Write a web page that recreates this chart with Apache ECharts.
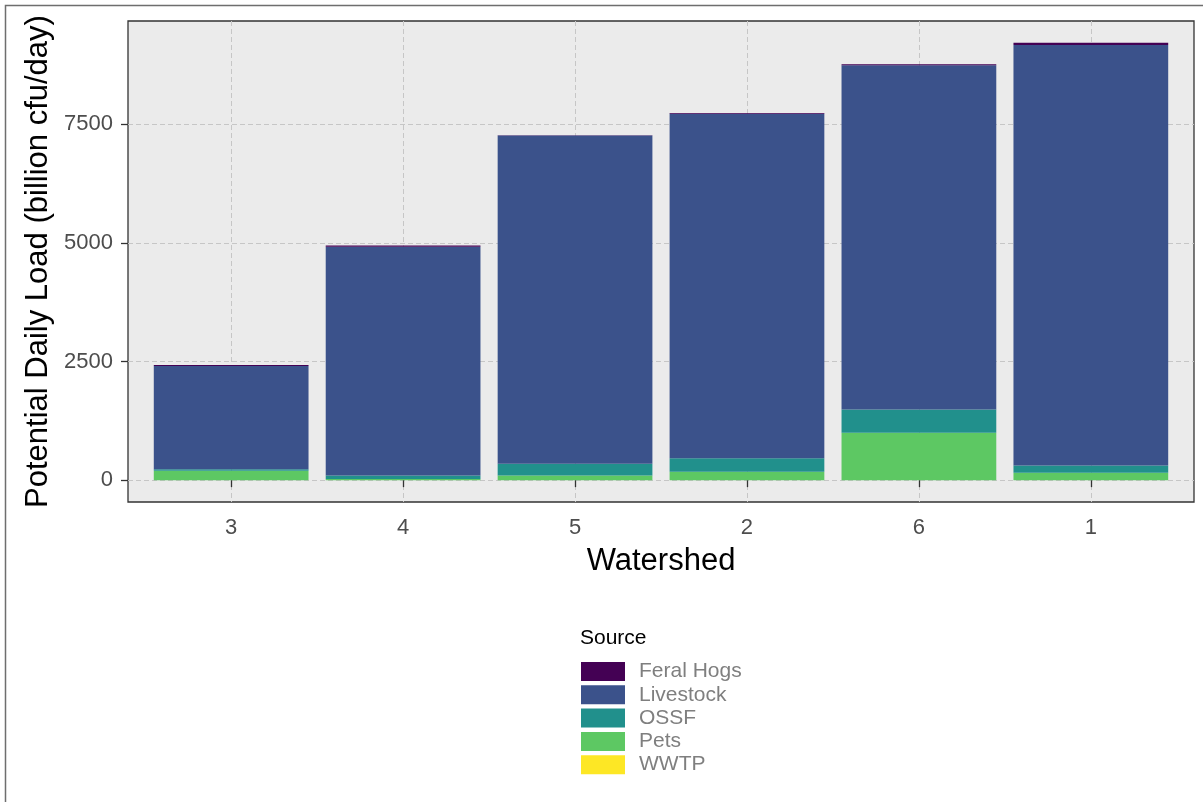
<!DOCTYPE html>
<html>
<head>
<meta charset="utf-8">
<script src="https://cdn.jsdelivr.net/npm/echarts@6/dist/echarts.min.js"></script>
<style>
  html, body { margin: 0; padding: 0; background: #ffffff; }
  #chart { width: 1203px; height: 802px; }
</style>
</head>
<body>
<div id="chart"></div>
<script>
// Watersheds, ordered by total potential load
const watersheds = ['3', '4', '5', '2', '6', '1'];

// Potential daily load per source (billion cfu/day)
const feralHogs = [20, 25, 10, 20, 20, 45];
const livestock = [2172, 4819, 6915, 7254, 7254, 8857];
const ossf      = [35, 75, 243, 288, 489, 156];
const pets      = [196, 25, 100, 175, 1000, 154];
const wwtp      = [0, 0, 0, 0, 0, 0];

const yTicks = [0, 2500, 5000, 7500];

const sources = ['Feral Hogs', 'Livestock', 'OSSF', 'Pets', 'WWTP'];
const sourceColors = {
  'Feral Hogs': '#440154',
  'Livestock': '#3B528B',
  'OSSF': '#21908C',
  'Pets': '#5DC863',
  'WWTP': '#FDE725'
};
const sourceValues = {
  'Feral Hogs': feralHogs,
  'Livestock': livestock,
  'OSSF': ossf,
  'Pets': pets,
  'WWTP': wwtp
};

const FONT = '"Liberation Sans", Arial, sans-serif';

// Panel geometry (discrete x scale padded by 0.6 of a category on each side)
const panel = { left: 128, top: 21, right: 1194, bottom: 502 };
const panelW = panel.right - panel.left;
const panelH = panel.bottom - panel.top;
const band = panelW / (watersheds.length - 1 + 2 * 0.6);

// y range expanded by 5% of the data range on both sides
const totals = watersheds.map((_, i) => sources.reduce((s, k) => s + sourceValues[k][i], 0));
const maxTotal = Math.max(...totals);
const yMin = -0.05 * maxTotal;
const yMax = 1.05 * maxTotal;

const gridLine = { show: true, lineStyle: { color: '#C6C6C6', width: 1, type: [5, 3] } };

// Stacked bottom-up: WWTP, Pets, OSSF, Livestock, Feral Hogs
const stackOrder = ['WWTP', 'Pets', 'OSSF', 'Livestock', 'Feral Hogs'];

const chart = echarts.init(document.getElementById('chart'), null, { renderer: 'canvas' });
chart.setOption({
  animation: false,
  backgroundColor: '#ffffff',
  textStyle: { fontFamily: FONT },
  grid: [
    { // panel background, border and horizontal grid lines
      left: panel.left, top: panel.top, width: panelW, height: panelH,
      show: true, backgroundColor: '#EBEBEB', borderColor: '#333333', borderWidth: 1.3,
      containLabel: false
    },
    { // bars
      left: panel.left + 0.1 * band, top: panel.top, width: panelW - 0.2 * band, height: panelH,
      containLabel: false
    },
    { // vertical grid lines through category centres
      left: panel.left + 0.6 * band, top: panel.top, width: panelW - 1.2 * band, height: panelH,
      containLabel: false
    }
  ],
  xAxis: [
    { gridIndex: 0, type: 'value', min: 0, max: 1, show: false },
    {
      gridIndex: 1, type: 'category', data: watersheds, boundaryGap: true,
      axisLine: { show: false },
      axisTick: { show: true, alignWithLabel: true, length: 7, lineStyle: { color: '#333333', width: 1.3 } },
      axisLabel: { color: '#4D4D4D', fontSize: 22, fontFamily: FONT, margin: 15 },
      splitLine: { show: false }
    },
    {
      gridIndex: 2, type: 'category', data: watersheds, boundaryGap: false,
      axisLine: { show: false }, axisTick: { show: false }, axisLabel: { show: false },
      splitLine: gridLine
    }
  ],
  yAxis: [
    {
      gridIndex: 0, type: 'value', min: yMin, max: yMax,
      axisLine: { show: false },
      axisTick: { show: true, customValues: yTicks, length: 7, lineStyle: { color: '#333333', width: 1.3 } },
      axisLabel: {
        customValues: yTicks, color: '#4D4D4D', fontSize: 22, fontFamily: FONT, margin: 15,
        formatter: v => String(v)
      },
      splitLine: gridLine
    },
    { gridIndex: 1, type: 'value', min: yMin, max: yMax, show: false, splitLine: { show: false } },
    { gridIndex: 2, type: 'value', min: yMin, max: yMax, show: false, splitLine: { show: false } }
  ],
  legend: {
    data: sources,
    orient: 'vertical',
    left: 576, top: 656,
    icon: 'rect',
    itemWidth: 44, itemHeight: 19, itemGap: 2.3,
    selectedMode: false,
    textStyle: { color: '#7F7F7F', fontSize: 21, fontFamily: FONT, lineHeight: 19, padding: [0, 0, 0, 9] }
  },
  series: stackOrder.map(name => ({
    name: name,
    type: 'bar',
    xAxisIndex: 1, yAxisIndex: 1,
    stack: 'load',
    barWidth: '90%',
    data: sourceValues[name],
    itemStyle: { color: sourceColors[name] },
    emphasis: { disabled: true }
  })),
  graphic: [
    {
      type: 'rect', silent: true,
      shape: { x: 5.5, y: 5.5, width: 1400, height: 1000 },
      style: { fill: 'none', stroke: '#6E6E6E', lineWidth: 1.5 }
    },
    {
      type: 'text', silent: true,
      x: 38, y: (panel.top + panel.bottom) / 2, rotation: Math.PI / 2,
      style: {
        text: 'Potential Daily Load (billion cfu/day)',
        fill: '#000000', font: '31px ' + FONT, align: 'center', verticalAlign: 'middle'
      }
    },
    {
      type: 'text', silent: true,
      x: (panel.left + panel.right) / 2, y: 561,
      style: { text: 'Watershed', fill: '#000000', font: '31px ' + FONT, align: 'center', verticalAlign: 'middle' }
    },
    {
      type: 'text', silent: true,
      x: 580, y: 638,
      style: { text: 'Source', fill: '#000000', font: '21px ' + FONT, align: 'left', verticalAlign: 'middle' }
    }
  ]
});
</script>
</body>
</html>
